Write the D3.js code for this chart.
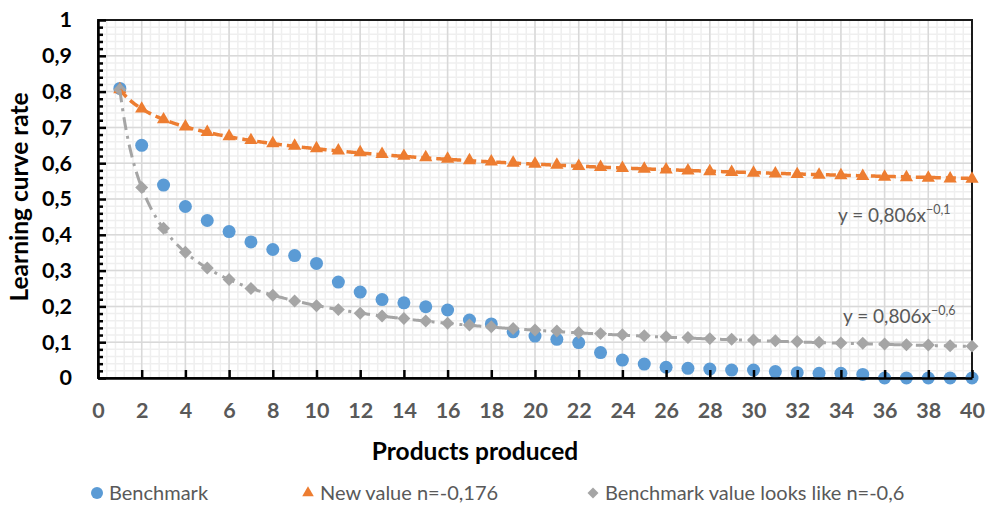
<!DOCTYPE html>
<html>
<head>
<meta charset="utf-8">
<script src="https://cdn.jsdelivr.net/npm/d3@7"></script>
<style>
  html, body { margin: 0; padding: 0; background: #fff; }
  svg { display: block; font-family: Lato, "Open Sans", sans-serif; }
</style>
</head>
<body>
<svg id="chart" width="988" height="506"></svg>
<script>
// Products produced (x) and learning-curve rates for each series
const products = d3.range(1, 41);

const benchmark = [
  0.809, 0.650, 0.539, 0.479, 0.440, 0.409, 0.380, 0.359, 0.342, 0.320,
  0.268, 0.240, 0.219, 0.210, 0.199, 0.190, 0.162, 0.151, 0.129, 0.117,
  0.108, 0.099, 0.071, 0.050, 0.039, 0.030, 0.027, 0.025, 0.022, 0.022,
  0.018, 0.015, 0.013, 0.013, 0.010, 0.000, 0.000, 0.000, 0.000, 0.000
];

const newValue = [
  0.806, 0.752, 0.722, 0.702, 0.687, 0.675, 0.664, 0.655, 0.648, 0.641,
  0.635, 0.630, 0.625, 0.620, 0.616, 0.612, 0.608, 0.604, 0.601, 0.598,
  0.595, 0.592, 0.589, 0.586, 0.584, 0.582, 0.579, 0.577, 0.575, 0.573,
  0.571, 0.569, 0.567, 0.566, 0.564, 0.562, 0.560, 0.559, 0.557, 0.556
];

const benchmarkLike = [
  0.806, 0.532, 0.418, 0.351, 0.307, 0.275, 0.250, 0.231, 0.215, 0.202,
  0.191, 0.181, 0.173, 0.166, 0.159, 0.153, 0.148, 0.143, 0.138, 0.134,
  0.131, 0.127, 0.124, 0.121, 0.118, 0.115, 0.113, 0.110, 0.108, 0.106,
  0.104, 0.102, 0.100, 0.098, 0.097, 0.095, 0.093, 0.092, 0.090, 0.089
];

const seriesNames = ["Benchmark", "New value n=-0,176", "Benchmark value looks like n=-0,6"];
const seriesColors = ["#5b9bd5", "#ed7d31", "#a5a5a5"];

// Power trendlines y = a·x^b for the orange and grey series, as labelled
const trendCoef = [0.806, 0.806];
const trendExp = [-0.1, -0.6];

const xTickValues = d3.range(0, 41, 2);
const yTickValues = d3.range(0, 11).map(i => i / 10);

const xTitle = "Products produced";
const yTitle = "Learning curve rate";

// ---------------------------------------------------------------------------
const svg = d3.select("#chart");
const plot = { left: 98, right: 972, top: 20, bottom: 378 };

const x = d3.scaleLinear().domain([0, 40]).range([plot.left, plot.right]);
const y = d3.scaleLinear().domain([0, 1]).range([plot.bottom, plot.top]);

const locale = d3.formatLocale({ decimal: ",", thousands: " ", grouping: [3], currency: ["", ""] });
const fmtTick = locale.format(".1~f");

// Grid: minor lines first, then major lines
const grid = svg.append("g");
const minorX = d3.range(0, 40.0001, 0.4);
const minorY = d3.range(0, 1.0001, 0.02);
grid.selectAll("line.mx").data(minorX).join("line")
  .attr("x1", d => x(d)).attr("x2", d => x(d))
  .attr("y1", plot.top).attr("y2", plot.bottom)
  .attr("stroke", "#efefef").attr("stroke-width", 1.5);
grid.selectAll("line.my").data(minorY).join("line")
  .attr("x1", plot.left).attr("x2", plot.right)
  .attr("y1", d => y(d)).attr("y2", d => y(d))
  .attr("stroke", "#efefef").attr("stroke-width", 1.5);
grid.selectAll("line.Mx").data(xTickValues).join("line")
  .attr("x1", d => x(d)).attr("x2", d => x(d))
  .attr("y1", plot.top).attr("y2", plot.bottom)
  .attr("stroke", "#d9d9d9").attr("stroke-width", 1.5);
grid.selectAll("line.My").data(yTickValues).join("line")
  .attr("x1", plot.left).attr("x2", plot.right)
  .attr("y1", d => y(d)).attr("y2", d => y(d))
  .attr("stroke", "#d9d9d9").attr("stroke-width", 1.5);

// Plot frame (top and right)
svg.append("rect")
  .attr("x", plot.left).attr("y", plot.top)
  .attr("width", plot.right - plot.left).attr("height", plot.bottom - plot.top)
  .attr("fill", "none").attr("stroke", "#1a1a1a").attr("stroke-width", 2);

const curveX = d3.range(1, 40.0001, 0.05);
const trendLine = i => d3.line()
  .x(d => x(d))
  .y(d => y(trendCoef[i] * Math.pow(d, trendExp[i])))(curveX);

// Markers
const marks = svg.append("g");
marks.selectAll("circle").data(products).join("circle")
  .attr("cx", d => x(d)).attr("cy", (d, i) => y(benchmark[i]))
  .attr("r", 6.5).attr("fill", seriesColors[0]);

const triangle = d3.symbol().type(d3.symbolTriangle).size(76);
marks.selectAll("path.tri").data(products).join("path").attr("class", "tri")
  .attr("transform", (d, i) => `translate(${x(d)},${y(newValue[i])})`)
  .attr("d", triangle).attr("fill", seriesColors[1]);

const diamond = d3.symbol().type(d3.symbolSquare).size(84);
marks.selectAll("path.dia").data(products).join("path").attr("class", "dia")
  .attr("transform", (d, i) => `translate(${x(d)},${y(benchmarkLike[i])}) rotate(45)`)
  .attr("d", diamond).attr("fill", seriesColors[2]);

// Trendlines
svg.append("path").attr("d", trendLine(0))
  .attr("fill", "none").attr("stroke", seriesColors[1]).attr("stroke-width", 3.5)
  .attr("stroke-dasharray", "10,5");
svg.append("path").attr("d", trendLine(1))
  .attr("fill", "none").attr("stroke", seriesColors[2]).attr("stroke-width", 3)
  .attr("stroke-dasharray", "13,6,3,6");

// Trendline equations
const fmtA = locale.format(".3f"), fmtB = locale.format(".1f");
const eqPos = [[838, 222], [843, 323]];
trendCoef.forEach((a, i) => {
  const t = svg.append("text")
    .attr("x", eqPos[i][0]).attr("y", eqPos[i][1])
    .attr("font-size", 19).attr("fill", "#595959");
  t.append("tspan").text(`y = ${fmtA(a)}x`);
  t.append("tspan").attr("dy", -8).attr("font-size", 12.5).text(fmtB(trendExp[i]));
});

// Axes
const yAxis = d3.axisLeft(y).tickValues(yTickValues).tickFormat(fmtTick)
  .tickSizeInner(-8).tickSizeOuter(0).tickPadding(26);
const yAxisG = svg.append("g").attr("transform", `translate(${plot.left},0)`).call(yAxis);
yAxisG.select(".domain").attr("stroke", "#000").attr("stroke-width", 2.5);
yAxisG.selectAll(".tick line").attr("stroke", "#000").attr("stroke-width", 2.5);
yAxisG.selectAll(".tick text").attr("font-size", 21.5).attr("font-weight", 700)
  .attr("fill", "#000").attr("font-family", "Lato, sans-serif");

const yMinor = d3.axisLeft(y).tickValues(minorY.filter(v => Math.round(v * 50) % 5 !== 0))
  .tickFormat("").tickSizeInner(-5).tickSizeOuter(0);
const yMinorG = svg.append("g").attr("transform", `translate(${plot.left},0)`).call(yMinor);
yMinorG.select(".domain").remove();
yMinorG.selectAll(".tick line").attr("stroke", "#000").attr("stroke-width", 2.5);

const xAxis = d3.axisBottom(x).tickValues(xTickValues).tickFormat(fmtTick)
  .tickSizeInner(-8).tickSizeOuter(0).tickPadding(25);
const xAxisG = svg.append("g").attr("transform", `translate(0,${plot.bottom})`).call(xAxis);
xAxisG.select(".domain").attr("stroke", "#000").attr("stroke-width", 2.5);
xAxisG.selectAll(".tick line").attr("stroke", "#000").attr("stroke-width", 2.5);
xAxisG.selectAll(".tick text").attr("font-size", 21.5).attr("font-weight", 700)
  .attr("fill", "#595959").attr("font-family", "Lato, sans-serif");

// Axis titles
svg.append("text").attr("x", 475).attr("y", 460).attr("text-anchor", "middle")
  .attr("font-size", 24.5).attr("font-weight", 700).attr("fill", "#000").text(xTitle);
svg.append("text").attr("transform", "translate(28,197) rotate(-90)").attr("text-anchor", "middle")
  .attr("font-size", 24.5).attr("font-weight", 700).attr("fill", "#000").text(yTitle);

// Legend
const legendX = [97, 308, 593];
const legendY = 493;
const legend = svg.append("g");
seriesNames.forEach((name, i) => {
  const g = legend.append("g").attr("transform", `translate(${legendX[i]},${legendY})`);
  if (i === 0) g.append("circle").attr("r", 6).attr("fill", seriesColors[0]);
  if (i === 1) g.append("path").attr("d", d3.symbol().type(d3.symbolTriangle).size(58)()).attr("fill", seriesColors[1]);
  if (i === 2) g.append("path").attr("d", d3.symbol().type(d3.symbolSquare).size(60)()).attr("transform", "rotate(45)").attr("fill", seriesColors[2]);
  g.append("text").attr("x", 12).attr("y", 7).attr("font-size", 20).attr("fill", "#595959").text(name);
});
</script>
</body>
</html>
